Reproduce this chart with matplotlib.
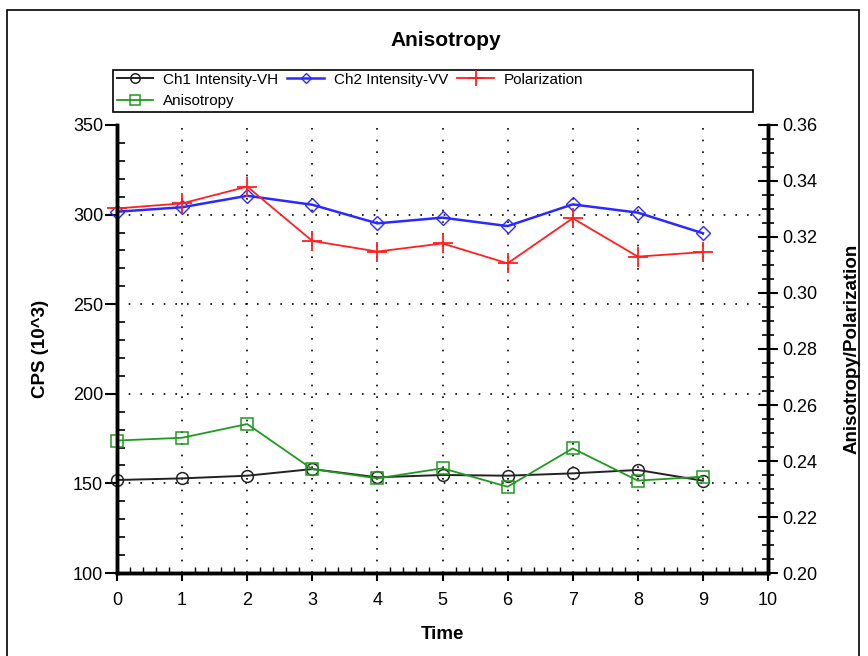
import matplotlib
matplotlib.use("Agg")
import matplotlib.pyplot as plt
from matplotlib.patches import Rectangle
from matplotlib.ticker import MultipleLocator, FormatStrFormatter

plt.rcParams['font.family'] = ['Liberation Sans', 'DejaVu Sans']

time = [0, 1, 2, 3, 4, 5, 6, 7, 8, 9]
ch1_vh = [151.9, 152.8, 154.3, 158.0, 153.4, 154.7, 154.3, 155.6, 157.5, 151.5]
ch2_vv = [301.6, 304.1, 310.5, 305.5, 295.1, 298.3, 293.6, 305.7, 301.1, 289.6]
polarization = [0.3302, 0.3320, 0.3380, 0.3186, 0.3148, 0.3177, 0.3106, 0.3267, 0.3130, 0.3146]
anisotropy = [0.2473, 0.2483, 0.2532, 0.2371, 0.2338, 0.2374, 0.2308, 0.2445, 0.2330, 0.2344]

W, H = 868, 656
fig = plt.figure(figsize=(W / 100, H / 100), dpi=100)

# outer border
fig.patches.append(Rectangle((7 / W, -0.05), (859 - 7) / W, 1.05 - 10 / H,
                             transform=fig.transFigure, fill=False,
                             edgecolor='black', linewidth=1.2))

ax = fig.add_axes([117 / W, (H - 573) / H, (768 - 117) / W, (573 - 125) / H])
ax2 = ax.twinx()

l1, = ax.plot(time, ch1_vh, color='#222222', lw=1.4, marker='o', ms=8.5,
              mfc='none', mec='#222222', mew=1.1, label='Ch1 Intensity-VH')
l2, = ax.plot(time, ch2_vv, color='#2a2aff', lw=1.8, marker='D', ms=7,
              mfc='none', mec='#2a2aff', mew=1.0, label='Ch2 Intensity-VV')
l3, = ax2.plot(time, polarization, color='#ff2020', lw=1.3, marker='+', ms=14,
               mew=1.3, label='Polarization')
l4, = ax2.plot(time, anisotropy, color='#1f9a1f', lw=1.3, marker='s', ms=9,
               mfc='none', mec='#1f9a1f', mew=1.1, label='Anisotropy')
for l in (l1, l2, l3, l4):
    l.set_clip_on(False)

ax.set_xlim(0, 10)
ax.set_ylim(100, 350)
ax2.set_ylim(0.20, 0.36)

# grid
for xv in range(1, 10):
    ax.axvline(xv, color='black', lw=1.2, ls=(0, (1, 6)), zorder=0)
for yv in (150, 200, 250, 300):
    ax.axhline(yv, color='black', lw=1.2, ls=(0, (1, 6)), zorder=0)

# spines
for a in (ax, ax2):
    a.spines['top'].set_visible(False)
    a.spines['left'].set_linewidth(2.5)
    a.spines['bottom'].set_linewidth(2.5)
    a.spines['right'].set_linewidth(2.5)

ax.xaxis.set_major_locator(MultipleLocator(1))
ax.xaxis.set_minor_locator(MultipleLocator(0.2))
ax.yaxis.set_major_locator(MultipleLocator(50))
ax.yaxis.set_minor_locator(MultipleLocator(10))
ax2.yaxis.set_major_locator(MultipleLocator(0.02))
ax2.yaxis.set_minor_locator(MultipleLocator(0.005))
ax2.yaxis.set_major_formatter(FormatStrFormatter('%.2f'))

ax.tick_params(axis='x', which='major', direction='out', length=6, width=1.5,
               labelsize=13, pad=8, colors='black')
ax.tick_params(axis='x', which='minor', direction='in', length=4, width=1)
ax.tick_params(axis='y', which='major', direction='out', length=9, width=1.5,
               labelsize=13, pad=1)
ax.tick_params(axis='y', which='minor', direction='in', length=6, width=1.2)
ax2.tick_params(axis='y', which='major', direction='inout', length=14, width=1.5,
                labelsize=13, pad=3)
ax2.tick_params(axis='y', which='minor', direction='inout', length=8, width=1.2)

ax.set_xlabel('Time', fontsize=13.5, fontweight='bold', labelpad=12)
ax.set_ylabel('CPS (10^3)', fontsize=13.5, fontweight='bold', labelpad=17)
ax2.set_ylabel('Anisotropy/Polarization', fontsize=13.5, fontweight='bold', labelpad=19)

fig.text(446 / W, 1 - 40 / H, 'Anisotropy', ha='center', va='center',
         fontsize=15, fontweight='bold')

# legend frame
fig.patches.append(Rectangle((113 / W, 1 - 112 / H), (753 - 113) / W, 42 / H,
                             transform=fig.transFigure, fill=False,
                             edgecolor='black', linewidth=1.2))
leg = fig.legend([l1, l4, l2, l3],
                 ['Ch1 Intensity-VH', 'Anisotropy', 'Ch2 Intensity-VV', 'Polarization'],
                 loc='upper left', bbox_to_anchor=(115 / W, 1 - 71 / H),
                 ncol=3, frameon=False, fontsize=11, handlelength=2.4,
                 handletextpad=0.65, columnspacing=0.6, labelspacing=0.5,
                 borderaxespad=0, borderpad=0.1, markerscale=0.8)

fig.savefig('out.png', dpi=100)
